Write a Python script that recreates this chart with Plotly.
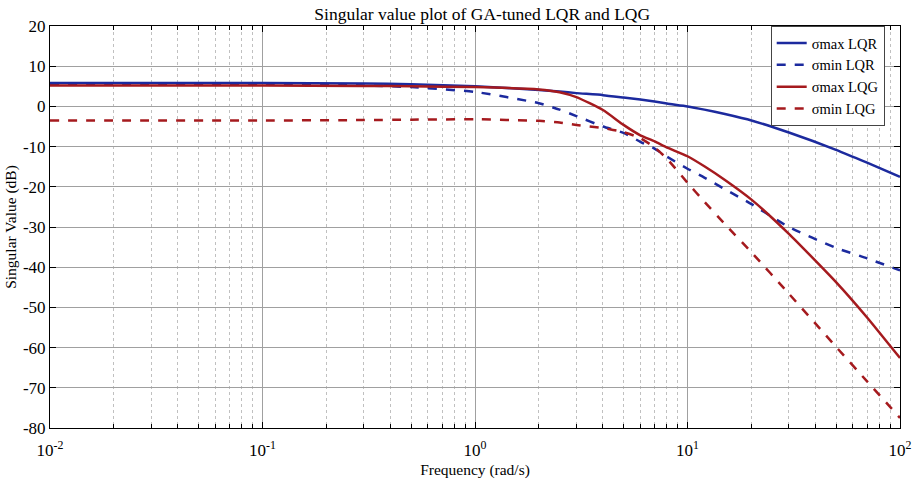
import plotly.graph_objects as go

freq = [0.01, 0.1, 0.3, 0.5, 1, 2, 2.5, 3, 4, 5, 6, 7, 8, 10, 12, 15, 20, 30, 50, 70, 100]

smax_lqr = [5.8, 5.8, 5.7, 5.5, 5.0, 4.1, 3.7, 3.3, 2.8, 2.2, 1.7, 1.2, 0.7, 0.0, -0.8, -1.9, -3.5, -6.5, -10.8, -14.0, -17.5]
smin_lqr = [5.6, 5.5, 5.2, 4.8, 3.6, 0.8, -0.8, -2.4, -5.0, -6.6, -8.8, -10.5, -12.5, -15.5, -17.7, -20.6, -24.3, -30.0, -35.2, -37.8, -40.8]
smax_lqg = [5.2, 5.2, 5.1, 5.0, 4.8, 4.2, 3.5, 2.3, -0.9, -4.6, -7.2, -8.7, -10.2, -12.4, -14.9, -18.3, -23.2, -31.7, -43.7, -52.5, -62.6]
smin_lqg = [-3.5, -3.5, -3.4, -3.3, -3.2, -3.6, -4.0, -4.6, -5.4, -6.4, -7.9, -10.2, -13.0, -19.0, -23.7, -29.3, -36.3, -46.6, -59.8, -68.4, -77.5]

series_names = ["σmax LQR", "σmin LQR", "σmax LQG", "σmin LQG"]

x_tickvals = [0.01, 0.1, 1, 10, 100]
x_ticktext = ["10<sup>-2</sup>", "10<sup>-1</sup>", "10<sup>0</sup>", "10<sup>1</sup>", "10<sup>2</sup>"]
y_tickvals = [20, 10, 0, -10, -20, -30, -40, -50, -60, -70, -80]
y_ticktext = ["20", "10", "0", "-10", "-20", "-30", "-40", "-50", "-60", "-70", "-80"]

BLUE = "#1c2a9e"
RED = "#a51a1e"
FONT = "Liberation Serif"

fig = go.Figure()
for name, ys, color, dash in [
    (series_names[0], smax_lqr, BLUE, "solid"),
    (series_names[1], smin_lqr, BLUE, "dash"),
    (series_names[2], smax_lqg, RED, "solid"),
    (series_names[3], smin_lqg, RED, "dash"),
]:
    fig.add_trace(go.Scatter(
        x=freq, y=ys, name=name, mode="lines",
        line=dict(color=color, width=2.5, dash=dash, shape="spline", smoothing=0.5),
    ))

fig.update_layout(
    width=915, height=480,
    margin=dict(l=50, r=15, t=26, b=52, autoexpand=False),
    paper_bgcolor="white", plot_bgcolor="white",
    font=dict(family=FONT, size=15, color="black"),
    title=dict(text="Singular value plot of GA-tuned LQR and LQG", x=0.527, xanchor="center",
               yref="container", y=0.972, yanchor="middle", font=dict(family=FONT, size=17.5)),
    showlegend=True,
    legend=dict(x=0.982, y=1.0, xanchor="right", yanchor="top",
                bgcolor="white", bordercolor="#444", borderwidth=1,
                font=dict(family=FONT, size=14.5), tracegroupgap=0, itemwidth=30),
)

fig.update_xaxes(
    type="log", range=[-2, 2], automargin=False,
    tickvals=x_tickvals, ticktext=x_ticktext,
    showline=True, linecolor="black", linewidth=1, mirror="ticks",
    ticks="inside", ticklen=6, tickcolor="black",
    showgrid=True, gridcolor="#a0a0a0", gridwidth=1,
    minor=dict(dtick="D1", showgrid=True, gridcolor="#c0c0c0", griddash="dot",
               ticks="inside", ticklen=4, tickcolor="black"),
    title=dict(text="Frequency (rad/s)", font=dict(family=FONT, size=15.5), standoff=4),
    tickfont=dict(family=FONT, size=17), ticklabelstandoff=7,
    zeroline=False,
)
fig.update_yaxes(
    range=[-80, 20], automargin=False,
    tickvals=y_tickvals, ticktext=y_ticktext,
    showline=True, linecolor="black", linewidth=1, mirror="ticks",
    ticks="inside", ticklen=6, tickcolor="black",
    showgrid=True, gridcolor="#a0a0a0", gridwidth=1,
    title=dict(text="Singular Value (dB)", font=dict(family=FONT, size=15.5), standoff=2),
    tickfont=dict(family=FONT, size=17),
    zeroline=False,
)

fig.write_html("out.html", config={"displayModeBar": False},
               post_script="document.body.style.margin='0';document.body.style.overflow='hidden';")
